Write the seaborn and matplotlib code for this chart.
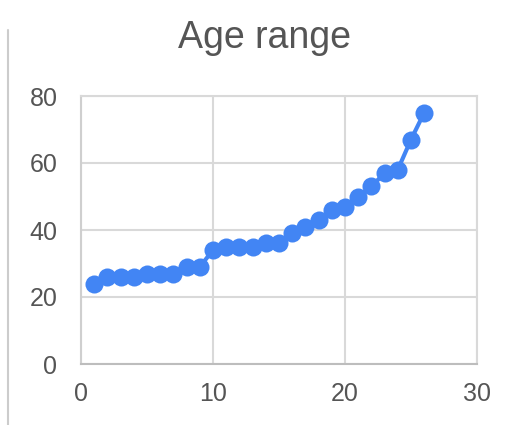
import matplotlib
matplotlib.use("Agg")
import matplotlib.pyplot as plt
import seaborn as sns
import pandas as pd
from matplotlib.lines import Line2D

# values
index = list(range(1, 27))
age = [24, 26, 26, 26, 27, 27, 27, 29, 29, 34, 35, 35, 35, 36, 36, 39,
       41, 43, 46, 47, 50, 53, 57, 58, 67, 75]
x_ticks = [0, 10, 20, 30]
y_ticks = [0, 20, 40, 60, 80]

sns.set_theme(style="whitegrid")
plt.rcParams["font.family"] = ["Liberation Sans", "DejaVu Sans"]

df = pd.DataFrame({"index": index, "age": age})

fig = plt.figure(figsize=(5.17, 4.25), dpi=100)
ax = fig.add_axes([81 / 517, 61 / 425, 396 / 517, 268 / 425])

sns.lineplot(data=df, x="index", y="age", ax=ax, color="#4285F4",
             linewidth=3, marker="o", markersize=13, markeredgewidth=0,
             zorder=3)

ax.set_xlim(0, 30)
ax.set_ylim(0, 80)
ax.set_xticks(x_ticks)
ax.set_yticks(y_ticks)
ax.set_xlabel("")
ax.set_ylabel("")
ax.grid(True, color="#d9d9d9", linewidth=1.5)
for side in ["top", "right", "left", "bottom"]:
    ax.spines[side].set_color("#d9d9d9")
    ax.spines[side].set_linewidth(1.5)
ax.spines["bottom"].set_color("#bdbdbd")
ax.spines["left"].set_color("#cfcfcf")
ax.tick_params(axis="both", labelsize=18, colors="#555555", length=0)
ax.tick_params(axis="x", pad=13)
ax.tick_params(axis="y", pad=17)

fig.text(0.512, 0.91, "Age range", ha="center", va="center",
         fontsize=27, color="#555555")

# left border of the surrounding card
fig.add_artist(Line2D([8 / 517, 8 / 517], [0.0, 0.93], color="#cccccc",
                      linewidth=1.5, transform=fig.transFigure))

fig.savefig("out.png", dpi=100)
